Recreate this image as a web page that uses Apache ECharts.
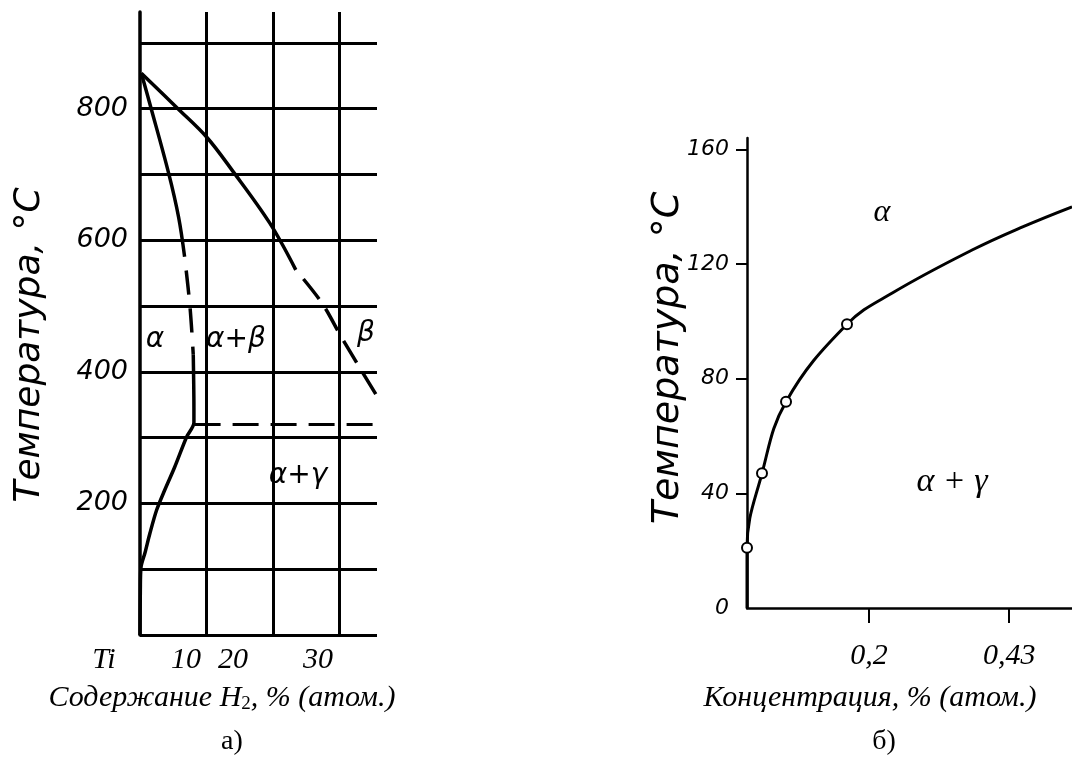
<!DOCTYPE html>
<html><head><meta charset="utf-8">
<script src="https://cdn.jsdelivr.net/npm/echarts@6/dist/echarts.min.js"></script>
<style>html,body{margin:0;padding:0;background:#fff}#c{width:1072px;height:769px}</style>
</head><body><div id="c"></div>
<script>
// ---------- Diagram a) Ti–H ----------
const leftXTickLabels = ['Ti', '10', '20', '30'];
const leftYTickValues = [200, 400, 600, 800];
const betaTransusSolid = [[0.2, 854], [5.7, 800], [10, 757], [13.8, 707], [19.5, 626], [23.4, 555]];
const betaTransusDashed = [[23.4, 555], [27.3, 505], [30.3, 452], [35.6, 363]];
const alphaSolvusSolid = [[0.2, 854], [1.6, 803], [4.3, 702], [5.8, 635], [6.7, 575]];
const alphaSolvusDashed = [[6.7, 575], [7.5, 500], [8.0, 426]];
const alphaSolvusLower = [[8.0, 426], [8.1, 345], [8.1, 323], [7.0, 301], [5.2, 255], [3.7, 220], [2.5, 190], [1.5, 155], [0.75, 125], [0.15, 103], [0.05, 68], [0, 0]];
const eutectoidLine = [[8.2, 320], [35.6, 320]];
const leftRegionLabels = ['α', 'α+β', 'α+γ', 'β'];

// ---------- Diagram б) ----------
const rightXTickValues = [0.2, 0.43];
const rightYTickValues = [0, 40, 80, 120, 160];
const solvusCurve = [[0, 0], [0, 21], [0.0246, 47], [0.064, 72], [0.164, 99], [0.239, 110], [0.370, 125], [0.452, 133], [0.533, 140]];
const measuredPoints = [[0, 21], [0.0246, 47], [0.064, 72], [0.164, 99]];
const rightRegionLabels = ['α', 'α + γ'];

const HAND = '"DejaVu Sans"';
const TIMES = '"Liberation Serif"';
const black = '#000';

const chart = echarts.init(document.getElementById('c'), null, {renderer: 'canvas'});

function lineSeries(data, width, dash, offset, smooth) {
  return {
    type: 'line', xAxisIndex: 0, yAxisIndex: 0, data: data, showSymbol: false,
    smooth: smooth === undefined ? 0.35 : smooth, animation: false, silent: true,
    lineStyle: {color: black, width: width, type: dash || 'solid', dashOffset: offset || 0, cap: 'butt'}
  };
}

function txt(x, y, text, font, extra) {
  return Object.assign({type: 'text', x: x, y: y, z: 50,
    style: {text: text, font: font, fill: black, textAlign: 'center', textVerticalAlign: 'middle'}}, extra || {});
}

const option = {
  backgroundColor: '#fff',
  animation: false,
  grid: [
    {left: 140, top: 12, width: 237, height: 623},
    {left: 747, top: 138, width: 325, height: 470}
  ],
  xAxis: [
    {
      type: 'value', gridIndex: 0, min: 0, max: 35.6, interval: 10,
      axisLine: {show: false}, axisTick: {show: false}, axisLabel: {show: false},
      splitLine: {show: true, showMinLine: false, showMaxLine: false, lineStyle: {color: black, width: 3}}
    },
    {
      type: 'value', gridIndex: 1, min: 0, max: 0.533,
      axisLine: {show: true, lineStyle: {color: black, width: 2.5}},
      axisTick: {show: true, customValues: rightXTickValues, length: 15, lineStyle: {color: black, width: 2}},
      axisLabel: {
        show: true, customValues: rightXTickValues, margin: 33,
        formatter: v => rightXTickValues.some(t => Math.abs(t - v) < 1e-9) ? String(v).replace('.', ',') : '',
        color: black, fontFamily: TIMES, fontStyle: 'italic', fontSize: 30
      },
      splitLine: {show: false}
    }
  ],
  yAxis: [
    {
      type: 'value', gridIndex: 0, min: 0, max: 947, interval: 100,
      axisLine: {show: true, lineStyle: {color: black, width: 3.5}},
      axisTick: {show: false},
      axisLabel: {
        show: true, margin: 12, color: black, fontFamily: HAND, fontStyle: 'italic', fontSize: 27,
        formatter: v => leftYTickValues.includes(v) ? String(v) : ''
      },
      splitLine: {show: true, showMinLine: true, showMaxLine: false, lineStyle: {color: black, width: 3}}
    },
    {
      type: 'value', gridIndex: 1, min: 0, max: 164, interval: 40,
      axisLine: {show: true, lineStyle: {color: black, width: 2.5}},
      axisTick: {show: true, customValues: [40, 80, 120, 160], length: 11, lineStyle: {color: black, width: 2}},
      axisLabel: {
        show: true, customValues: rightYTickValues, margin: 18, color: black, fontFamily: HAND, fontStyle: 'italic', fontSize: 22,
        formatter: v => rightYTickValues.includes(v) ? String(v) : ''
      },
      splitLine: {show: false}
    }
  ],
  series: [
    lineSeries(betaTransusSolid, 3.5),
    lineSeries(betaTransusDashed, 3.5, [25, 12], 25),
    lineSeries(alphaSolvusSolid, 3.5),
    lineSeries(alphaSolvusDashed, 3.5, [24, 14], 24),
    lineSeries(alphaSolvusLower, 3.5, 'solid', 0, 0.3),
    lineSeries(eutectoidLine, 3, [26, 12], 0, false),
    {
      type: 'line', xAxisIndex: 1, yAxisIndex: 1, data: solvusCurve, showSymbol: false, smooth: 0.4,
      silent: true, lineStyle: {color: black, width: 3}
    },
    {
      type: 'scatter', xAxisIndex: 1, yAxisIndex: 1, data: measuredPoints, symbol: 'circle', symbolSize: 10,
      silent: true, itemStyle: {color: '#fff', borderColor: black, borderWidth: 2, opacity: 1}, z: 5
    }
  ],
  graphic: [
    // region labels, diagram a
    txt(155, 340, leftRegionLabels[0], 'italic 28px ' + HAND),
    txt(236, 340, leftRegionLabels[1], 'italic 28px ' + HAND),
    txt(298, 476, leftRegionLabels[2], 'italic 28px ' + HAND),
    txt(357, 334, leftRegionLabels[3], 'italic 28px ' + HAND, {style: {text: leftRegionLabels[3], font: 'italic 28px ' + HAND, fill: black, textAlign: 'left', textVerticalAlign: 'middle'}}),
    {type: 'rect', z: 60, shape: {x: 378.5, y: 300, width: 30, height: 60}, style: {fill: '#fff'}},
    // y titles
    txt(30, 345, 'Температура, °С', 'italic 36px ' + HAND, {rotation: Math.PI / 2}),
    txt(668, 358, 'Температура, °С', 'italic 38px ' + HAND, {rotation: Math.PI / 2}),
    // typed x tick labels, diagram a
    txt(104, 660, leftXTickLabels[0], 'italic 30px ' + TIMES),
    txt(186, 660, leftXTickLabels[1], 'italic 30px ' + TIMES),
    txt(233, 660, leftXTickLabels[2], 'italic 30px ' + TIMES),
    txt(318, 660, leftXTickLabels[3], 'italic 30px ' + TIMES),
    // axis titles
    {type: 'text', x: 222, y: 698, z: 50, style: {
      text: 'Содержание H{sub|2}, % (атом.)', font: 'italic 30px ' + TIMES, fill: black, textAlign: 'center', textVerticalAlign: 'middle',
      rich: {sub: {fontFamily: TIMES, fontSize: 19, padding: [12, 0, 0, 0]}}
    }},
    txt(870, 698, 'Концентрация, % (атом.)', 'italic 30px ' + TIMES),
    txt(232, 742, 'а)', '28px ' + TIMES),
    txt(884, 742, 'б)', '28px ' + TIMES),
    // region labels, diagram б
    txt(882, 213, rightRegionLabels[0], 'italic 32px ' + TIMES),
    txt(952, 482, rightRegionLabels[1], 'italic 34px ' + TIMES)
  ]
};
chart.setOption(option);
</script></body></html>
